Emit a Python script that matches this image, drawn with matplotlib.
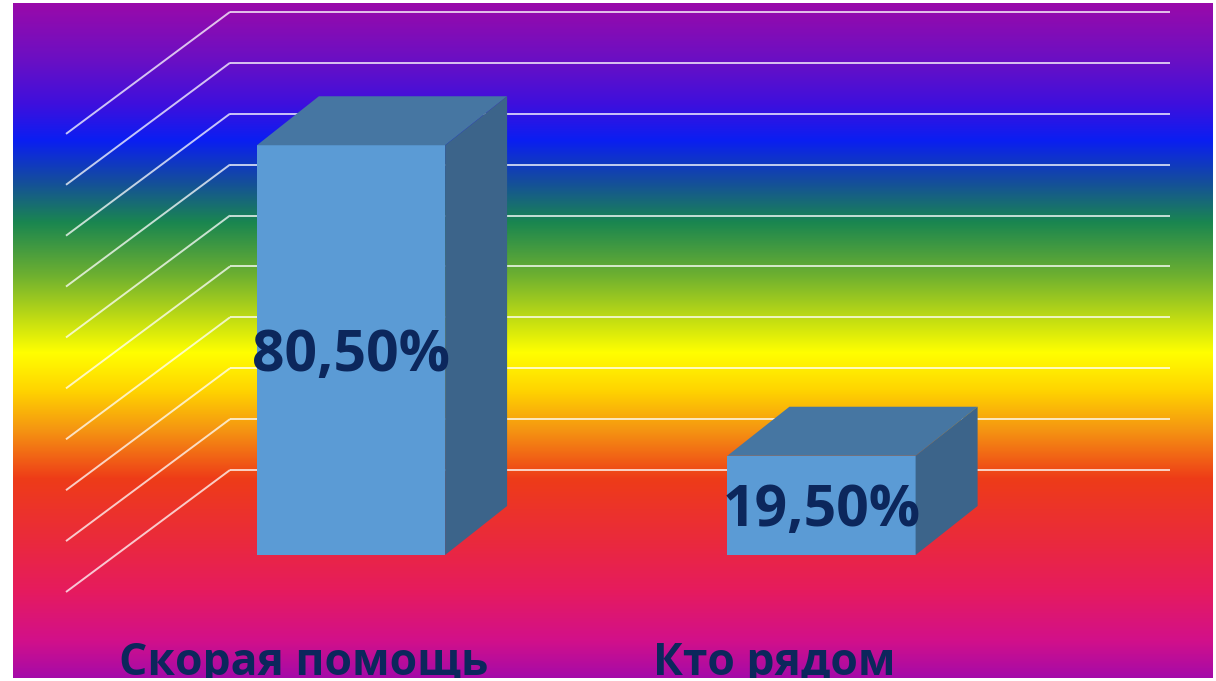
import numpy as np
import matplotlib
matplotlib.use("Agg")
import matplotlib.pyplot as plt
from matplotlib.patches import Polygon
from matplotlib.colors import to_rgb

# ---- data ----
categories = ["Скорая помощь", "Кто рядом"]
values = [80.5, 19.5]
value_labels = ["80,50%", "19,50%"]
grid_values = [0, 10, 20, 30, 40, 50, 60, 70, 80, 90]

# ---- layout (pixels of the 1216x681 canvas) ----
W, H = 1216, 681
PX_PER_UNIT_X = 470.5      # pixels between category centres
PX_PER_PCT = 5.09          # pixels per percentage point
X0_PX, Y0_PX = 351, 555    # front-plane origin (first category centre, 0 %)
L, R, T, B = 13, 1213, 3, 678  # chart-area rectangle

def px_to_x(px):
    return (px - X0_PX) / PX_PER_UNIT_X

def py_to_v(py):
    return (Y0_PX - py) / PX_PER_PCT

bar_w = 0.40
depth_dx, depth_dv = 62 / PX_PER_UNIT_X, 49 / PX_PER_PCT     # bar depth
wall_dx, wall_dv = 114 / PX_PER_UNIT_X, 85 / PX_PER_PCT      # back wall offset
side_dx, side_dv = -164 / PX_PER_UNIT_X, -122 / PX_PER_PCT   # left wall diagonal
wall_x0, wall_x1 = px_to_x(230), px_to_x(1170)

fig = plt.figure(figsize=(W / 100, H / 100), dpi=100)
fig.patch.set_facecolor("white")
ax = fig.add_axes([L / W, (H - B) / H, (R - L) / W, (B - T) / H])
ax.set_xlim(px_to_x(L), px_to_x(R))
ax.set_ylim(py_to_v(B), py_to_v(T))
ax.axis("off")

# ---- rainbow background ----
stops = [
    (0, "#9c0aa8"), (60, "#6a0fc4"), (105, "#3c10de"), (140, "#0a1ef2"),
    (180, "#144c9e"), (222, "#1a8650"), (275, "#6eb030"), (320, "#c4de12"),
    (352, "#ffff00"), (390, "#ffd400"), (430, "#f59412"), (478, "#ee3c18"),
    (540, "#ea2a3c"), (590, "#e61b5e"), (640, "#d2108a"), (681, "#a00aac"),
]
ys = np.arange(T, B)
pos = np.array([s[0] for s in stops], float)
cols = np.array([to_rgb(s[1]) for s in stops])
grad = np.stack([np.interp(ys, pos, cols[:, k]) for k in range(3)], axis=1)
img = np.repeat(grad[:, None, :], 2, axis=1)
ax.imshow(img, extent=[px_to_x(L), px_to_x(R), py_to_v(B), py_to_v(T)],
          aspect="auto", zorder=0, interpolation="bilinear")

# ---- gridlines (back wall + left wall diagonals) ----
for g in grid_values:
    yv = g + wall_dv
    ax.plot([wall_x0, wall_x1], [yv, yv], color="white", lw=1.4, alpha=0.75,
            zorder=1, solid_capstyle="butt")
    ax.plot([wall_x0, wall_x0 + side_dx], [yv, yv + side_dv], color="white",
            lw=1.4, alpha=0.75, zorder=1, solid_capstyle="butt")

# ---- 3D bars ----
front_c, top_c, side_c = "#5b9bd5", "#4676a2", "#3c648a"
text_c = "#0c275c"
font = ["Open Sans", "DejaVu Sans"]
for i, v in enumerate(values):
    x0, x1 = i - bar_w / 2, i + bar_w / 2
    ax.add_patch(Polygon([(x0, 0), (x1, 0), (x1, v), (x0, v)],
                         closed=True, fc=front_c, ec="none", zorder=3))
    ax.add_patch(Polygon([(x0, v), (x1, v), (x1 + depth_dx, v + depth_dv),
                          (x0 + depth_dx, v + depth_dv)],
                         closed=True, fc=top_c, ec="none", zorder=3))
    ax.add_patch(Polygon([(x1, 0), (x1 + depth_dx, depth_dv),
                          (x1 + depth_dx, v + depth_dv), (x1, v)],
                         closed=True, fc=side_c, ec="none", zorder=3))
    ax.text(i, v / 2 - 1.2, value_labels[i], ha="center", va="center",
            fontsize=41, fontweight="bold", color=text_c, family=font,
            zorder=5)

# ---- category labels (clipped by the chart area, as in the original) ----
for i, c in enumerate(categories):
    ax.text(i - 0.1, py_to_v(664), c, ha="center", va="center",
            fontsize=32, fontweight="bold", color=text_c, family=font,
            zorder=5, clip_on=True)

fig.savefig("out.png", dpi=100, facecolor="white")
